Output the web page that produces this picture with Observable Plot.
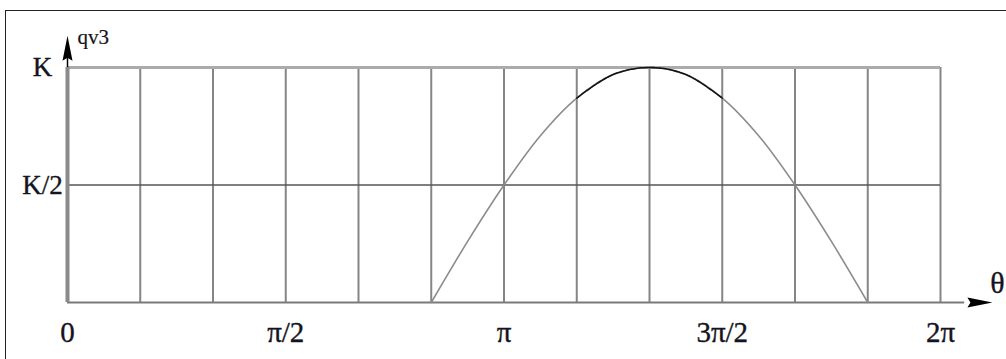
<!DOCTYPE html>
<html>
<head>
<meta charset="utf-8">
<script src="https://cdn.jsdelivr.net/npm/d3@7"></script>
<script src="https://cdn.jsdelivr.net/npm/@observablehq/plot@0.6"></script>
<style>
  body { margin: 0; background: #fff; }
  #wrap { position: relative; width: 1006px; height: 359px; overflow: hidden; }
  #frame { position: absolute; left: 5px; top: 10px; right: -4px; bottom: -4px;
           border-left: 1.5px solid #222; border-top: 1.5px solid #222; pointer-events: none; }
</style>
</head>
<body>
<div id="wrap"><div id="frame"></div></div>
<script>
const PI = Math.PI;

// Grid columns, in multiples of π/6 (0 … 2π)
const gridSteps = [0, 1, 2, 3, 4, 5, 6, 7, 8, 9, 10, 11, 12];
// Horizontal levels and their labels (fraction of K)
const levelValues = [0, 0.5, 1];
const levelLabels = ["K/2", "K"];
const levelLabelValues = [0.5, 1];
// θ axis labels, positions in multiples of π/6
const thetaTickSteps = [0, 3, 6, 9, 12];
const thetaTickLabels = ["0", "π/2", "π", "3π/2", "2π"];
// qv3 curve, sampled every π/12 from 5π/6 to 11π/6 (value as a fraction of K)
const curveSteps  = [10, 11, 12, 13, 14, 15, 16, 17, 18, 19, 20, 21, 22];
const curveValues = [0, 0.26, 0.5, 0.71, 0.87, 0.97, 1, 0.97, 0.87, 0.71, 0.5, 0.26, 0];
// Portion of the curve drawn in black (7π/6 … 3π/2)
const peakFromStep = 14, peakToStep = 18;
// Axis arrow tips (data units)
const thetaAxisEnd = 6.657;
const qAxisEnd = 1.135;

const grid = gridSteps.map(k => k * PI / 6);
const curve = curveSteps.map((k, i) => ({theta: k * PI / 12, q: curveValues[i]}));
const peak = curve.filter((d, i) => curveSteps[i] >= peakFromStep && curveSteps[i] <= peakToStep);
const thetaTicks = thetaTickSteps.map((k, i) => ({theta: k * PI / 6, label: thetaTickLabels[i]}));
const levelTicks = levelLabelValues.map((v, i) => ({q: v, label: levelLabels[i]}));

// Filled arrowhead pointing up, tip at the origin
const arrowHead = {
  draw(ctx) {
    ctx.moveTo(0, 0);
    ctx.lineTo(-5, 25);
    ctx.lineTo(0, 22);
    ctx.lineTo(5, 25);
    ctx.closePath();
  }
};

const ink = "#141420";
const font = "'Liberation Serif', 'Times New Roman', serif";
const textStyle = {fill: ink, stroke: ink, strokeWidth: 0.35, fontFamily: font};

const chart = Plot.plot({
  width: 1006,
  height: 359,
  marginLeft: 67,
  marginRight: 66,
  marginTop: 67,
  marginBottom: 57,
  x: {domain: [0, 2 * PI], axis: null},
  y: {domain: [0, 1], axis: null},
  style: {fontFamily: font, background: "transparent"},
  marks: [
    // vertical grid
    Plot.ruleX(grid.slice(1), {y1: 0, y2: 1, stroke: "#858585", strokeWidth: 2}),
    // top level K
    Plot.ruleY([levelValues[2]], {x1: 0, x2: 2 * PI, stroke: "#ababab", strokeWidth: 3}),
    // half level K/2
    Plot.ruleY([levelValues[1]], {x1: 0, x2: 2 * PI, stroke: "#555", strokeWidth: 1.5}),
    // θ axis with arrow
    Plot.ruleY([levelValues[0]], {x1: 0, x2: thetaAxisEnd - 0.2, stroke: "#7a7a7a", strokeWidth: 2}),
    Plot.dot([{theta: thetaAxisEnd, q: 0}], {x: "theta", y: "q", symbol: arrowHead, rotate: 90, fill: "#000", stroke: "none"}),
    // q axis with arrow
    Plot.ruleX([grid[0]], {y1: 0, y2: 1, stroke: "#8a8a8a", strokeWidth: 4}),
    Plot.ruleX([grid[0]], {y1: 1, y2: qAxisEnd - 0.05, stroke: "#000", strokeWidth: 1.5}),
    Plot.dot([{theta: 0, q: qAxisEnd}], {x: "theta", y: "q", symbol: arrowHead, fill: "#000", stroke: "none"}),
    // curve
    Plot.line(curve, {x: "theta", y: "q", curve: "catmull-rom", stroke: "#8c8c8c", strokeWidth: 1.6}),
    Plot.line(peak, {x: "theta", y: "q", curve: "catmull-rom", stroke: "#111", strokeWidth: 1.6, strokeDasharray: "5,1.2"}),
    // labels
    Plot.text(thetaTicks, {x: "theta", y: 0, text: "label", dy: 30, fontSize: 29, ...textStyle}),
    Plot.text(levelTicks, {x: 0, y: "q", text: "label", dx: -25, fontSize: 27, ...textStyle}),
    Plot.text(["θ"], {x: thetaAxisEnd, y: 0, text: d => d, dx: 5, dy: -19, fontSize: 30, ...textStyle}),
    Plot.text(["qv3"], {x: 0, y: qAxisEnd, text: d => d, dx: 10, dy: 1, textAnchor: "start", fontSize: 21, ...textStyle, strokeWidth: 0.2})
  ]
});

document.getElementById("wrap").prepend(chart);
</script>
</body>
</html>
